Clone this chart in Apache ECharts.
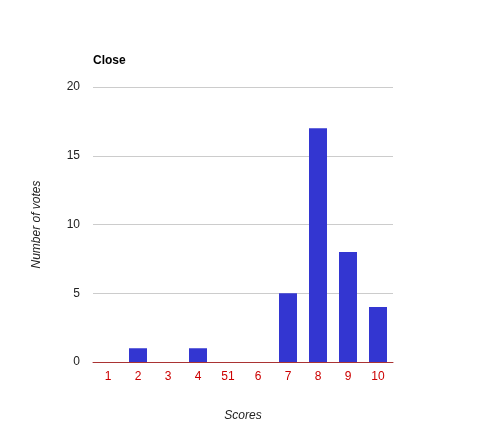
<!DOCTYPE html>
<html><head><meta charset="utf-8">
<script src="https://cdn.jsdelivr.net/npm/echarts@6/dist/echarts.min.js"></script>
<style>html,body{margin:0;padding:0;background:#fff}#c{width:486px;height:448px}</style>
</head><body><div id="c"></div>
<script>
const categories = ['1','2','3','4','51','6','7','8','9','10'];
const votes = [0,1,0,1,0,0,5,17,8,4];
const yTicks = [0,5,10,15,20];
const chart = echarts.init(document.getElementById('c'));
chart.setOption({
  animation:false,
  backgroundColor:'#fff',
  title:{text:'Close',left:93,top:55,padding:0,textStyle:{fontFamily:'Liberation Sans, Arial',fontSize:12,fontWeight:'bold',color:'#000'}},
  grid:{left:93,right:93,top:87,bottom:86},
  xAxis:{type:'category',data:categories,
    name:'Scores',nameLocation:'middle',nameGap:48,
    nameTextStyle:{fontFamily:'Liberation Sans, Arial',fontSize:12,fontStyle:'italic',color:'#222'},
    axisLine:{lineStyle:{color:'#a33',width:1}},axisTick:{show:false},
    axisLabel:{color:'#c00',fontFamily:'Liberation Sans, Arial',fontSize:12,margin:9}},
  yAxis:{type:'value',min:0,max:20,interval:5,
    name:'Number of votes',nameLocation:'middle',nameGap:50,
    nameTextStyle:{fontFamily:'Liberation Sans, Arial',fontSize:12,fontStyle:'italic',color:'#222'},
    axisLine:{show:false},axisTick:{show:false},
    axisLabel:{color:'#222',fontFamily:'Liberation Sans, Arial',fontSize:12,margin:13},
    splitLine:{lineStyle:{color:'#ccc'}}},
  series:[{type:'bar',data:votes,barWidth:18,itemStyle:{color:'#3336d1'}}]
});
</script></body></html>
